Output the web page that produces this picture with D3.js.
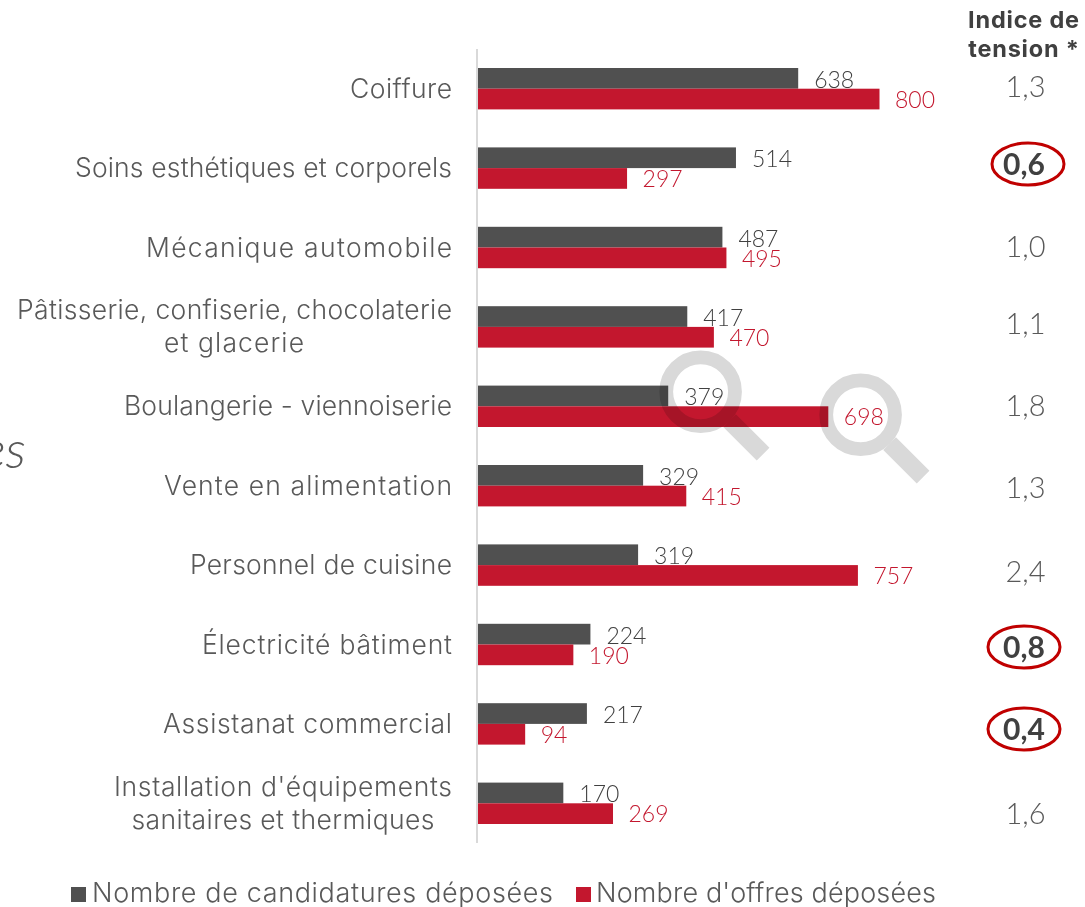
<!DOCTYPE html>
<html><head><meta charset="utf-8">
<script src="https://cdn.jsdelivr.net/npm/d3@7"></script>
<style>
html,body{margin:0;padding:0;background:#fff;overflow:hidden}
svg{display:block}
text{font-family:"Lato","Open Sans",sans-serif;font-weight:300}
.wide{font-family:"Inter","Open Sans",sans-serif;font-weight:300}
</style></head><body>
<svg id="c" width="1085" height="907"></svg>
<script>
const categories=[["Coiffure"],["Soins esthétiques et corporels"],["Mécanique automobile"],["Pâtisserie, confiserie, chocolaterie","et glacerie"],["Boulangerie - viennoiserie"],["Vente en alimentation"],["Personnel de cuisine"],["Électricité bâtiment"],["Assistanat commercial"],["Installation d'équipements","sanitaires et thermiques"]];
const candidatures=[638,514,487,417,379,329,319,224,217,170];
const offres=[800,297,495,470,698,415,757,190,94,269];
const tension=["1,3","0,6","1,0","1,1","1,8","1,3","2,4","0,8","0,4","1,6"];
const circled=["0,6","0,8","0,4"];
const legendLabels=["Nombre de candidatures déposées","Nombre d'offres déposées"];
const GRAY="#505050",RED="#c3172e",TXT="#595959";
const labelFit=[[102],[377],[306],[435,140],[328],[288],[262],[250],[289],[338,303]];
const svg=d3.select("#c");
const x=d3.scaleLinear().domain([0,800]).range([478,879.5]);
const y=d3.scaleBand().domain(d3.range(10)).range([49,843]);
const bh=20.7;
svg.append("text").attr("x",26).attr("y",468).attr("text-anchor","end").attr("font-size",52).attr("font-style","italic").attr("fill",TXT).text("es");
svg.append("line").attr("x1",477).attr("x2",477).attr("y1",49).attr("y2",843).attr("stroke","#d9d9d9").attr("stroke-width",2);
const cy=i=>y(i)+y.bandwidth()/2;
svg.append("g").selectAll("rect").data(candidatures).join("rect").attr("x",x(0)).attr("y",(d,i)=>cy(i)-bh).attr("width",d=>x(d)-x(0)).attr("height",bh).attr("fill",GRAY);
svg.append("g").selectAll("rect").data(offres).join("rect").attr("x",x(0)).attr("y",(d,i)=>cy(i)).attr("width",d=>x(d)-x(0)).attr("height",bh).attr("fill",RED);
svg.append("g").selectAll("text").data(candidatures).join("text").attr("x",d=>x(d)+16).attr("y",(d,i)=>cy(i)-1).attr("font-size",23).attr("fill","#404040").text(d=>d);
svg.append("g").selectAll("text").data(offres).join("text").attr("x",d=>x(d)+15.5).attr("y",(d,i)=>cy(i)+19).attr("font-size",23).attr("fill",RED).text(d=>d);
const secondLineX={3:234,9:283};
categories.forEach((lines,i)=>{
  lines.forEach((l,k)=>{
    const two=lines.length>1;
    svg.append("text").attr("class","wide").attr("font-size",26.5).attr("fill",TXT)
      .attr("textLength",labelFit[i][k]).attr("lengthAdjust","spacing")
      .attr("x",two&&k===1?secondLineX[i]:452).attr("text-anchor",two&&k===1?"middle":"end")
      .attr("y",cy(i)+(two?(k===0?-7.5:25.5):9)).text(l);
  });
});
function mag(cx,cyy){
  const g=svg.append("g").style("mix-blend-mode","multiply");
  g.append("circle").attr("cx",cx).attr("cy",cyy).attr("r",34.4).attr("fill","none").attr("stroke","#d9d9d9").attr("stroke-width",13.8);
  g.append("line").attr("x1",cx+29).attr("y1",cyy+29).attr("x2",cx+62.5).attr("y2",cyy+62.5).attr("stroke","#d9d9d9").attr("stroke-width",18);
}
mag(700.6,391.7);mag(860.6,414.7);
["Indice de","tension *"].forEach((s,k)=>svg.append("text").attr("class","wide").attr("x",1024).attr("y",27.5+k*29.5).attr("text-anchor","middle").attr("font-size",23.5).style("letter-spacing","0.8px").style("font-weight",700).attr("fill","#404040").text(s));
const ty=[87,165,247,324,406,488,572,648,730,814];
tension.forEach((v,i)=>{
  const c=circled.includes(v);
  svg.append("text").attr("x",c?1024:1025.5).attr("y",ty[i]+10).attr("text-anchor","middle").attr("font-size",c?30:29).style("font-weight",c?700:300).attr("fill",c?"#404040":TXT).text(v);
  if(c) svg.append("ellipse").attr("cx",i===1?1028:1024).attr("cy",ty[i]-1).attr("rx",36).attr("ry",21).attr("fill","none").attr("stroke","#c00000").attr("stroke-width",3);
});
const lg=[[71,92,GRAY,461],[576,596,RED,340]];
lg.forEach(([a,b,col,w],i)=>{
  svg.append("rect").attr("x",a).attr("y",887).attr("width",15).attr("height",15).attr("fill",col);
  svg.append("text").attr("class","wide").attr("x",b).attr("y",901.5).attr("font-size",27).attr("textLength",w).attr("lengthAdjust","spacing").attr("fill",TXT).text(legendLabels[i]);
});
</script></body></html>
